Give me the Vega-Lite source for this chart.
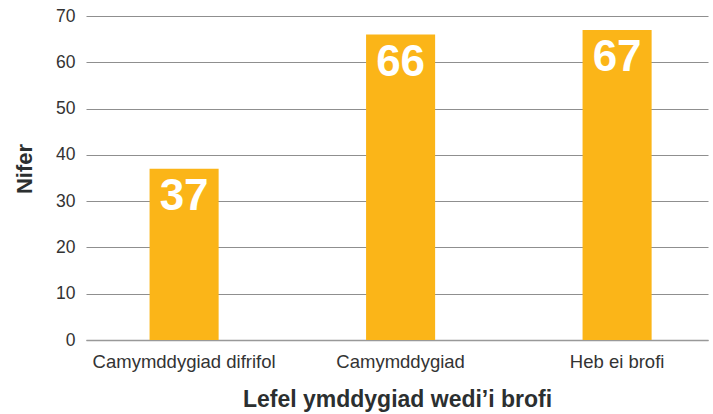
{
  "$schema": "https://vega.github.io/schema/vega-lite/v6.json",
  "width": 622,
  "height": 324,
  "autosize": {"type": "none"},
  "padding": {"left": 86, "top": 16, "right": 5, "bottom": 74},
  "background": "white",
  "config": {
    "font": "Liberation Sans",
    "view": {"stroke": null}
  },
  "data": {
    "values": [
      {"category": "Camymddygiad difrifol", "count": 37},
      {"category": "Camymddygiad", "count": 66},
      {"category": "Heb ei brofi", "count": 67}
    ]
  },
  "encoding": {
    "x": {
      "field": "category",
      "type": "nominal",
      "sort": null,
      "scale": {"paddingInner": 0.681, "paddingOuter": 0.277, "align": 0.53},
      "axis": {
        "title": "Lefel ymddygiad wedi’i brofi",
        "titleFontSize": 23,
        "titleFontWeight": "bold",
        "titleColor": "#2b2f30",
        "titleY": 66.5,
        "titleBaseline": "alphabetic",
        "labelAngle": 0,
        "labelFontSize": 18.5,
        "labelLimit": 0,
        "labelColor": "#333333",
        "labelPadding": 12,
        "ticks": false,
        "domainColor": "#999999",
        "domainWidth": 1.5
      }
    },
    "y": {
      "field": "count",
      "type": "quantitative",
      "scale": {"domain": [0, 70]},
      "axis": {
        "title": "Nifer",
        "titleFontSize": 22,
        "titleFontWeight": "bold",
        "titleColor": "#2b2f30",
        "titleX": -61.5,
        "titleY": 152.5,
        "titleAngle": -90,
        "titleAlign": "center",
        "titleBaseline": "middle",
        "values": [0, 10, 20, 30, 40, 50, 60, 70],
        "labelFontSize": 17.5,
        "labelColor": "#333333",
        "labelPadding": 11,
        "ticks": false,
        "domain": false,
        "gridColor": "#8f8f8f",
        "gridWidth": 1.2
      }
    }
  },
  "layer": [
    {"mark": {"type": "bar", "color": "#FBB518"}},
    {
      "mark": {
        "type": "text",
        "color": "white",
        "fontSize": 44,
        "fontWeight": "bold",
        "baseline": "alphabetic",
        "dy": 41
      },
      "encoding": {"text": {"field": "count", "type": "quantitative"}}
    }
  ]
}
